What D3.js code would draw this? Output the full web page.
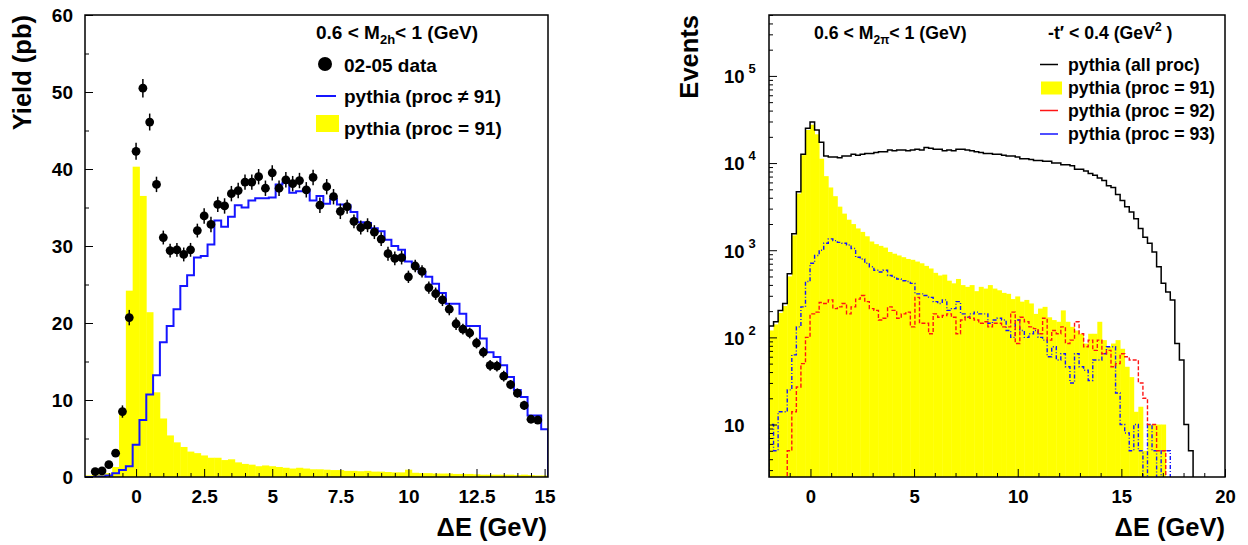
<!DOCTYPE html>
<html><head><meta charset="utf-8">
<script src="https://cdn.jsdelivr.net/npm/d3@7"></script>
<style>
body{margin:0;background:#fff;}
svg{display:block;}
</style></head><body>
<svg id="chart" width="1248" height="545"></svg>
<script>
// ---------------- LEFT PANEL DATA ----------------
const leftBinLo = -1.875, leftBinW = 0.25;   // 68 bins, centres -1.75 ... 15.0
const yieldProc91 = [0.2,0.25,0.35,0.5,1.3,8.2,24.2,40.3,36.5,21.4,11.0,7.6,5.4,4.5,3.9,3.3,3.1,2.8,2.5,2.5,2.2,2.3,1.9,1.7,1.6,1.4,1.5,1.4,1.3,1.2,1.1,1.2,1.1,1.0,1.0,0.95,0.9,0.9,0.8,0.8,0.75,0.8,0.7,0.7,0.65,0.6,0.6,0.95,0.55,0.5,0.5,0.45,0.45,0.45,0.4,0.4,0.4,0.35,0.3,0.3,0.3,0.3,0.3,0.25,0.3,0.25,0.2,0.2];
const yieldProcNot91 = [0,0,0.05,0.2,0.5,0.9,1.4,4.2,7.4,10.7,13.2,17.5,19.6,21.8,24.8,26.2,28.5,28.7,30.2,33.3,32.5,33.8,35.3,35.0,35.9,36.2,36.2,36.3,38.0,38.2,36.9,37.1,37.3,35.9,36.5,35.5,36.1,35.4,35.3,34.4,33.1,33.0,32.3,31.9,30.8,30.0,29.5,28.0,27.3,26.6,26.0,25.1,23.9,22.5,22.5,21.2,19.6,19.6,18.0,16.2,15.6,14.5,13.0,11.3,10.4,8.0,8.0,6.2];
const dataX0 = -1.5, dataStep = 0.25;        // 66 points, -1.5 ... 14.75
const dataY = [0.7,0.8,1.6,3.1,8.5,20.7,42.3,50.5,46.1,38.0,31.1,29.4,29.5,28.9,29.5,32.0,33.9,32.8,35.4,35.2,36.8,37.2,38.3,38.3,39.0,37.5,39.5,37.5,38.6,38.1,38.5,37.3,38.9,35.3,37.7,36.4,34.5,35.1,33.2,32.4,32.7,31.8,30.9,29.0,28.4,28.5,26.0,27.4,26.7,24.6,23.8,23.0,21.8,19.9,19.2,18.7,17.4,16.2,14.5,14.4,13.1,12.0,10.9,9.3,7.5,7.4];
const dataErr = [0.3,0.3,0.4,0.5,0.8,1.0,1.1,1.2,1.1,1.0,0.9,0.9,0.9,0.9,0.9,0.9,1.0,1.0,1.0,1.0,1.0,1.0,1.0,1.0,1.0,1.0,1.0,1.0,1.0,1.0,1.0,1.0,1.0,1.0,1.0,1.0,1.0,0.9,0.9,0.9,0.9,0.9,0.9,0.9,0.9,0.9,0.8,0.8,0.8,0.8,0.8,0.8,0.8,0.8,0.7,0.7,0.7,0.7,0.7,0.7,0.7,0.6,0.6,0.6,0.5,0.5];
const leftXTicks = [0,2.5,5,7.5,10,12.5,15];
const leftXTickLabels = ["0","2.5","5","7.5","10","12.5","15"];
const leftXMinor = [-1.5,-1,-0.5,0.5,1,1.5,2,3,3.5,4,4.5,5.5,6,6.5,7,8,8.5,9,9.5,10.5,11,11.5,12,13,13.5,14,14.5];
const leftYTicks = [0,10,20,30,40,50,60];
const leftYMinor = [5,15,25,35,45,55];

// ---------------- RIGHT PANEL DATA ----------------
const rightBinLo = -2, rightBinW = 0.22;     // 100 bins over [-2, 20]
const eventsAll = [135,151,204,245,537,1549,4677,12589,25119,29512,
 23988,17378,12023,11749,11749,11482,12023,12023,12589,12303,
 12589,12882,12882,13183,13490,13490,14125,13804,14125,14125,
 13804,14125,14454,14125,15136,14791,14454,14454,13804,14125,
 13804,14454,14454,14125,13804,13490,13183,12882,12882,12589,
 12589,12303,12023,12023,11749,11220,11220,10965,10715,10715,
 10471,10471,10000,10000,9550,9550,9333,8511,8511,8128,
 7586,7244,6761,6310,5495,5248,4365,3715,3162,2754,
 2291,1778,1413,1202,955,646,417,331,269,85,
 55,10,5,0,0,0,0,0,0,0];
const events91 = [120,141,191,229,501,1479,4467,12303,23988,27542,
 21380,11220,7079,5248,4169,3162,2630,2239,1995,1778,
 1622,1445,1259,1175,1122,1072,955,912,871,832,
 794,776,741,708,661,617,550,513,525,447,
 417,468,398,380,398,339,380,363,398,363,
 347,324,316,275,295,257,269,245,186,214,
 224,170,158,151,204,151,132,120,110,85,
 110,110,151,93,78,85,93,74,46,35,
 14,16,5,10,10,10,10,0,0,0,
 0,0,0,0,0,0,0,0,0,0];
const events92 = [0,0,0,0,5,14,27,50,100,186,
 195,251,245,269,214,224,245,186,224,275,
 302,257,214,204,158,166,224,204,166,186,
 195,132,288,145,145,110,186,170,178,186,
 170,110,158,170,166,158,145,151,132,145,
 145,132,132,195,85,170,151,132,126,110,
 166,93,120,110,132,85,93,151,110,78,
 93,71,93,65,71,46,50,65,60,55,
 55,30,20,10,10,5,5,0,0,0,
 0,0,0,0,0,0,0,0,0,0];
const events93 = [10,5,14,14,25,63,132,224,437,708,
 871,1000,1202,1349,1288,1230,1202,1148,1047,832,
 794,708,646,589,562,589,513,490,468,447,
 437,417,316,316,302,288,257,245,269,204,
 214,257,186,170,186,195,186,186,145,158,
 166,158,120,100,158,120,100,110,120,100,
 93,60,78,55,65,46,30,65,46,42,
 32,55,55,65,78,78,23,10,8,5,
 10,5,0,10,5,0,5,5,0,0,
 0,0,0,0,0,0,0,0,0,0];
const rightXTicks = [0,5,10,15,20];
const rightXMinor = [-1,1,2,3,4,6,7,8,9,11,12,13,14,16,17,18,19];
const rightYTicks = [10,100,1000,10000,100000];
const rightYExp = ["","2","3","4","5"];

// ---------------- DRAWING ----------------
const FONT = '"Liberation Sans", Arial, Helvetica, sans-serif';
const svg = d3.select("#chart").attr("font-family", FONT).attr("font-weight", "bold");

function stepPath(vals, lo, w, x, y, floor) {
  const pts = [[x(lo), y(floor)]];
  vals.forEach((v, i) => {
    const yy = y(Math.max(v, floor));
    pts.push([x(lo + i * w), yy]);
    pts.push([x(lo + (i + 1) * w), yy]);
  });
  pts.push([x(lo + vals.length * w), y(floor)]);
  return d3.line()(pts);
}
function styleAxis(g, size) {
  g.select(".domain").remove();
  g.attr("font-family", FONT).attr("font-size", size).attr("font-weight", "bold");
  g.selectAll(".tick line").attr("stroke", "#000").attr("stroke-width", 1);
  g.selectAll(".tick text").attr("fill", "#000");
}

// ===== LEFT =====
const xL = d3.scaleLinear().domain([-1.875, 15.125]).range([85, 548]);
const yL = d3.scaleLinear().domain([0, 60]).range([477, 15]);
const defs = svg.append("defs");
defs.append("clipPath").attr("id", "clipL").append("rect")
  .attr("x", 85).attr("y", 15).attr("width", 463).attr("height", 462);
defs.append("clipPath").attr("id", "clipR").append("rect")
  .attr("x", 769).attr("y", 15).attr("width", 456).attr("height", 462);

const pL = svg.append("g").attr("clip-path", "url(#clipL)");
pL.selectAll("rect.h91").data(yieldProc91).join("rect").attr("class", "h91")
  .attr("x", (d, i) => xL(leftBinLo + i * leftBinW))
  .attr("width", (d, i) => xL(leftBinLo + (i + 1) * leftBinW) - xL(leftBinLo + i * leftBinW) + 0.4)
  .attr("y", d => yL(d)).attr("height", d => yL(0) - yL(d))
  .attr("fill", "#ffff00");
pL.append("path").attr("d", stepPath(yieldProcNot91, leftBinLo, leftBinW, xL, yL, 0))
  .attr("fill", "none").attr("stroke", "#1515ff").attr("stroke-width", 2);

const dX = (d, i) => xL(dataX0 + i * dataStep);
pL.selectAll("line.err").data(dataY).join("line").attr("class", "err")
  .attr("x1", dX).attr("x2", dX)
  .attr("y1", (d, i) => yL(d - dataErr[i])).attr("y2", (d, i) => yL(d + dataErr[i]))
  .attr("stroke", "#000").attr("stroke-width", 1.5);
pL.selectAll("circle.pt").data(dataY).join("circle").attr("class", "pt")
  .attr("cx", dX).attr("cy", d => yL(d)).attr("r", 4.4).attr("fill", "#000");

// axes left
const axLB = svg.append("g").attr("transform", "translate(0,477)")
  .call(d3.axisBottom(xL).tickValues(leftXTicks).tickSize(-8).tickPadding(12.5)
    .tickFormat((d, i) => leftXTickLabels[i]));
styleAxis(axLB, 19);
const axLBm = svg.append("g").attr("transform", "translate(0,477)")
  .call(d3.axisBottom(xL).tickValues(leftXMinor).tickSize(-4).tickFormat(""));
styleAxis(axLBm, 19);
const axLL = svg.append("g").attr("transform", "translate(85,0)")
  .call(d3.axisLeft(yL).tickValues(leftYTicks).tickSize(-8).tickPadding(12).tickFormat(d => String(d)));
styleAxis(axLL, 19);
const axLLm = svg.append("g").attr("transform", "translate(85,0)")
  .call(d3.axisLeft(yL).tickValues(leftYMinor).tickSize(-4).tickFormat(""));
styleAxis(axLLm, 19);

svg.append("rect").attr("x", 85).attr("y", 15).attr("width", 463).attr("height", 462)
  .attr("fill", "none").attr("stroke", "#000").attr("stroke-width", 1.5);

svg.append("text").attr("transform", "translate(31,15) rotate(-90)")
  .attr("text-anchor", "end").attr("font-size", 25.5).text("Yield (pb)");
svg.append("text").attr("x", 547).attr("y", 536).attr("text-anchor", "end")
  .attr("font-size", 25.5).text("ΔE (GeV)");

// legend left
const hL = svg.append("text").attr("x", 316).attr("y", 39.3).attr("font-size", 19);
hL.append("tspan").text("0.6 < M");
hL.append("tspan").attr("font-size", 13).attr("dy", 5).text("2h");
hL.append("tspan").attr("dy", -5).text("< 1 (GeV)");
svg.append("circle").attr("cx", 325).attr("cy", 64).attr("r", 7).attr("fill", "#000");
svg.append("text").attr("x", 344).attr("y", 71.5).attr("font-size", 19).text("02-05 data");
svg.append("line").attr("x1", 316).attr("x2", 336).attr("y1", 96).attr("y2", 96)
  .attr("stroke", "#1515ff").attr("stroke-width", 2);
svg.append("text").attr("x", 344).attr("y", 103).attr("font-size", 19).text("pythia (proc ≠ 91)");
svg.append("rect").attr("x", 316).attr("y", 115).attr("width", 23).attr("height", 17).attr("fill", "#ffff00");
svg.append("text").attr("x", 344).attr("y", 135).attr("font-size", 19).text("pythia (proc = 91)");

// ===== RIGHT =====
const xR = d3.scaleLinear().domain([-2, 20]).range([769, 1225]);
const yR = d3.scaleLog().domain([2.5, 5e5]).range([477, 15]);
const pR = svg.append("g").attr("clip-path", "url(#clipR)");
const bins91 = events91.map((v, i) => ({v, i})).filter(o => o.v > 0);
pR.selectAll("rect.r91").data(bins91).join("rect").attr("class", "r91")
  .attr("x", o => xR(rightBinLo + o.i * rightBinW))
  .attr("width", o => xR(rightBinLo + (o.i + 1) * rightBinW) - xR(rightBinLo + o.i * rightBinW) + 0.4)
  .attr("y", o => yR(o.v)).attr("height", o => yR(2.5) - yR(o.v))
  .attr("fill", "#ffff00");
pR.append("path").attr("d", stepPath(events93, rightBinLo, rightBinW, xR, yR, 1))
  .attr("fill", "none").attr("stroke", "#1515ff").attr("stroke-width", 1.4).attr("stroke-dasharray", "4,2,1,2");
pR.append("path").attr("d", stepPath(events92, rightBinLo, rightBinW, xR, yR, 1))
  .attr("fill", "none").attr("stroke", "#ff1515").attr("stroke-width", 1.4).attr("stroke-dasharray", "4,2");
pR.append("path").attr("d", stepPath(eventsAll, rightBinLo, rightBinW, xR, yR, 1))
  .attr("fill", "none").attr("stroke", "#000").attr("stroke-width", 1.5);

const axRB = svg.append("g").attr("transform", "translate(0,477)")
  .call(d3.axisBottom(xR).tickValues(rightXTicks).tickSize(-8).tickPadding(12.5).tickFormat(d => String(d)));
styleAxis(axRB, 18.5);
const axRBm = svg.append("g").attr("transform", "translate(0,477)")
  .call(d3.axisBottom(xR).tickValues(rightXMinor).tickSize(-4).tickFormat(""));
styleAxis(axRBm, 18.5);

const rightYMinor = [];
[1, 10, 100, 1000, 10000, 100000].forEach(dec => {
  [2, 3, 4, 5, 6, 7, 8, 9].forEach(m => { const v = m * dec; if (v >= 2.5 && v <= 5e5) rightYMinor.push(v); });
});
const axRL = svg.append("g").attr("transform", "translate(769,0)")
  .call(d3.axisLeft(yR).tickValues(rightYTicks).tickSize(-8).tickFormat(""));
styleAxis(axRL, 18.5);
axRL.selectAll(".tick").each(function (d, i) {
  const t = d3.select(this).append("text").attr("x", -45).attr("dy", "0.37em")
    .attr("text-anchor", "start").attr("fill", "#000").attr("font-size", 18.5);
  t.append("tspan").text("10");
  if (rightYExp[i]) t.append("tspan").attr("font-size", 13).attr("dx", 4).attr("dy", -10).text(rightYExp[i]);
});
const axRLm = svg.append("g").attr("transform", "translate(769,0)")
  .call(d3.axisLeft(yR).tickValues(rightYMinor).tickSize(-4).tickFormat(""));
styleAxis(axRLm, 18.5);

svg.append("rect").attr("x", 769).attr("y", 15).attr("width", 456).attr("height", 462)
  .attr("fill", "none").attr("stroke", "#000").attr("stroke-width", 1.5);

svg.append("text").attr("transform", "translate(698,15) rotate(-90)")
  .attr("text-anchor", "end").attr("font-size", 25.5).text("Events");
svg.append("text").attr("x", 1225).attr("y", 536).attr("text-anchor", "end")
  .attr("font-size", 25.5).text("ΔE (GeV)");

// legend right
const hR1 = svg.append("text").attr("x", 814).attr("y", 38.5).attr("font-size", 17.7);
hR1.append("tspan").text("0.6 < M");
hR1.append("tspan").attr("font-size", 12).attr("dy", 5).text("2π");
hR1.append("tspan").attr("dy", -5).text("< 1 (GeV)");
const hR2 = svg.append("text").attr("x", 1048).attr("y", 38.5).attr("font-size", 17.7);
hR2.append("tspan").text("-t′ < 0.4 (GeV");
hR2.append("tspan").attr("font-size", 12).attr("dy", -8).text("2");
hR2.append("tspan").attr("dy", 8).text(" )");

const legR = [
  {label: "pythia (all proc)", kind: "line", color: "#000", y: 64.5, ty: 71},
  {label: "pythia (proc = 91)", kind: "box", color: "#ffff00", y: 88, ty: 94},
  {label: "pythia (proc = 92)", kind: "line", color: "#ff1515", y: 110.5, ty: 117},
  {label: "pythia (proc = 93)", kind: "line", color: "#1515ff", y: 134, ty: 140}
];
legR.forEach(e => {
  if (e.kind === "line") {
    svg.append("line").attr("x1", 1040).attr("x2", 1058).attr("y1", e.y).attr("y2", e.y)
      .attr("stroke", e.color).attr("stroke-width", 1.5);
  } else {
    svg.append("rect").attr("x", 1041).attr("y", e.y - 6.5).attr("width", 21).attr("height", 13).attr("fill", e.color);
  }
  svg.append("text").attr("x", 1068).attr("y", e.ty).attr("font-size", 17.7).text(e.label);
});
</script>
</body></html>
